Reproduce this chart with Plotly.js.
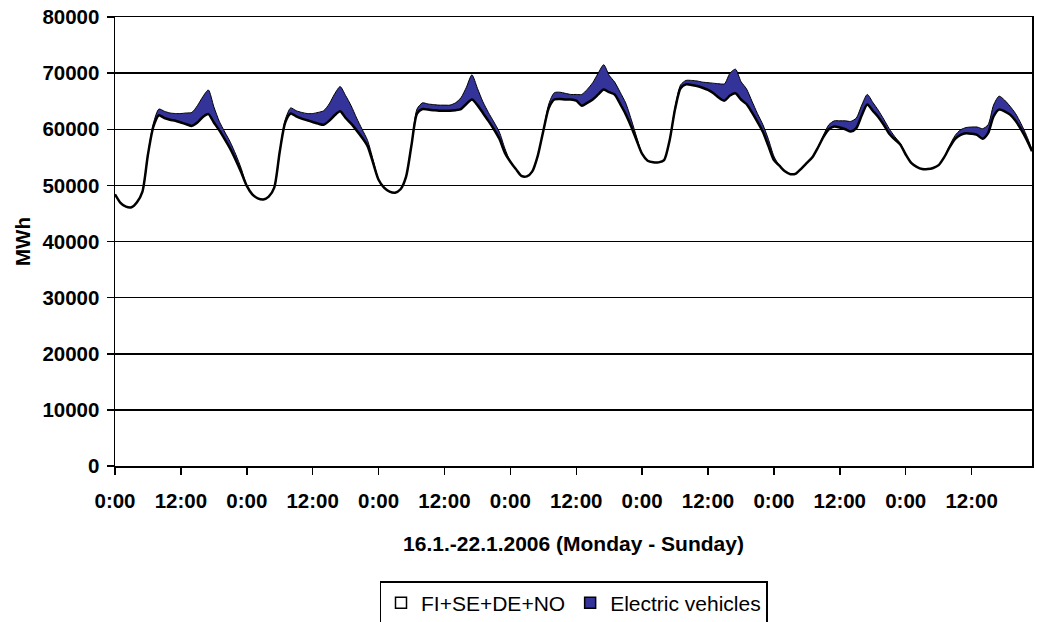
<!DOCTYPE html>
<html>
<head>
<meta charset="utf-8">
<script src="https://cdn.plot.ly/plotly-3.0.1.min.js"></script>
<style>
  html, body { margin: 0; padding: 0; background: #fff; }
  #chart { width: 1037px; height: 622px; }
</style>
</head>
<body>
<div id="chart"></div>
<script>
// Hourly load, MWh (FI+SE+DE+NO), Monday..Sunday 16.1.-22.1.2006
const baseMon = [48400, 46900, 46200, 46100, 47000, 48900, 55500, 60500, 62500, 62000, 61700, 61500, 61200, 60900, 60600, 61200, 62200, 62700, 61200, 59800, 58200, 56500, 54500, 52300];
const baseTue = [49900, 48400, 47700, 47500, 48000, 49600, 56000, 61200, 62800, 62300, 61900, 61600, 61300, 61000, 60800, 61500, 62500, 63200, 62000, 61000, 59800, 58500, 57000, 54000];
const baseWed = [51000, 49600, 48900, 48700, 49300, 51500, 57200, 62800, 63600, 63500, 63400, 63300, 63300, 63300, 63400, 63600, 64500, 65300, 64300, 62900, 61500, 60000, 58300, 55800];
const baseThu = [54200, 52900, 51700, 51600, 52500, 55300, 59700, 63800, 65300, 65400, 65300, 65300, 65100, 64200, 64700, 65300, 66200, 67100, 66600, 66200, 64500, 62700, 60500, 58000];
const baseFri = [55600, 54400, 54100, 54100, 54500, 58000, 63600, 67300, 68000, 67900, 67700, 67400, 67000, 66400, 65600, 65100, 66000, 66400, 65300, 64500, 63000, 61300, 59500, 57000];
const baseSat = [54500, 53500, 52500, 52000, 52100, 53000, 54000, 55000, 56700, 58600, 60000, 60500, 60300, 60000, 59600, 60200, 62500, 64400, 63300, 62200, 60800, 59200, 58200, 57300];
const baseSun = [55500, 54000, 53300, 52900, 52900, 53100, 53600, 55000, 56800, 58300, 59000, 59300, 59200, 59000, 58300, 59300, 62300, 63500, 63200, 62600, 61500, 60000, 58200, 56100];

// Additional load from electric vehicles, MWh
const evMon = [0, 0, 0, 0, 0, 0, 0, 600, 1100, 1200, 1200, 1300, 1600, 2000, 2400, 3000, 3600, 4300, 2800, 1600, 1300, 1200, 1000, 700];
const evTue = [0, 0, 0, 0, 0, 0, 0, 500, 1000, 1000, 1100, 1200, 1500, 2000, 2500, 3000, 3800, 4400, 4000, 3200, 2200, 1500, 1000, 600];
const evWed = [0, 0, 0, 0, 0, 0, 0, 800, 1100, 1000, 1000, 1000, 1000, 1000, 1300, 2000, 3000, 4400, 3000, 2000, 1500, 1300, 1200, 800];
const evThu = [0, 0, 0, 0, 0, 0, 0, 700, 1200, 1200, 1100, 900, 1100, 2000, 2400, 3000, 3800, 4400, 3000, 2200, 2100, 2000, 1300, 600];
const evFri = [0, 0, 0, 0, 0, 0, 300, 600, 700, 800, 900, 1000, 1300, 1800, 2500, 3000, 4000, 4300, 3200, 2700, 2000, 1500, 1300, 1200];
const evSat = [700, 0, 0, 0, 0, 0, 0, 0, 0, 300, 800, 1000, 1200, 1500, 1800, 1800, 1800, 1800, 1500, 1200, 1000, 900, 500, 200];
const evSun = [0, 0, 0, 0, 0, 0, 0, 0, 300, 600, 900, 1000, 1200, 1400, 1800, 1500, 2000, 2400, 2000, 1500, 1300, 1000, 700, 300];

const tickHours = [0, 12, 24, 36, 48, 60, 72, 84, 96, 108, 120, 132, 144, 156];
const tickLabels = ['0:00', '12:00', '0:00', '12:00', '0:00', '12:00', '0:00', '12:00', '0:00', '12:00', '0:00', '12:00', '0:00', '12:00'];

const seriesNames = ['FI+SE+DE+NO', 'Electric vehicles'];
const xTitle = '16.1.-22.1.2006 (Monday - Sunday)';
const yTitle = 'MWh';

const base = [].concat(baseMon, baseTue, baseWed, baseThu, baseFri, baseSat, baseSun);
const ev = [].concat(evMon, evTue, evWed, evThu, evFri, evSat, evSun);
const hours = base.map((_, i) => i);

const FONT = 'Liberation Sans, Arial, sans-serif';
const BLUE = '#333399';
const AXFONT = { family: FONT, size: 20.5, color: '#000', weight: 'bold' };
const TITLEFONT = { family: FONT, size: 21, color: '#000', weight: 'bold' };

const traces = [
  {
    x: hours, y: base, type: 'scatter', mode: 'lines', stackgroup: 'load',
    name: seriesNames[0], showlegend: false,
    line: { color: '#000', width: 2.5, shape: 'spline', smoothing: 0.7 },
    fillcolor: 'rgba(255,255,255,0)',
    hoverinfo: 'x+y'
  },
  {
    x: hours, y: ev, type: 'scatter', mode: 'lines', stackgroup: 'load',
    name: seriesNames[1], showlegend: false,
    line: { color: '#000', width: 1, shape: 'spline', smoothing: 0.7 },
    fillcolor: BLUE,
    hoverinfo: 'x+y'
  },
  // legend entries (square swatches as in the original)
  {
    x: [null], y: [null], type: 'scatter', mode: 'markers', name: seriesNames[0],
    marker: { symbol: 'square', size: 11, color: '#fff', line: { color: '#000', width: 1.5 } }
  },
  {
    x: [null], y: [null], type: 'scatter', mode: 'markers', name: seriesNames[1],
    marker: { symbol: 'square', size: 11, color: BLUE, line: { color: '#000', width: 1.5 } }
  }
];

const layout = {
  width: 1037, height: 622,
  margin: { l: 115, r: 5, t: 17, b: 156 },
  paper_bgcolor: '#fff', plot_bgcolor: '#fff',
  font: { family: FONT, color: '#000', size: 20 },
  showlegend: true,
  legend: {
    orientation: 'h', traceorder: 'normal',
    xref: 'paper', x: 0.5, xanchor: 'center',
    yref: 'container', y: 0.0659, yanchor: 'top',
    bordercolor: '#000', borderwidth: 1.5, bgcolor: '#fff',
    font: { family: FONT, size: 21, color: '#000' }
  },
  xaxis: {
    range: [0, 167], tickmode: 'array', tickvals: tickHours, ticktext: tickLabels,
    ticks: 'outside', ticklen: 7, tickwidth: 1.5, tickcolor: '#000',
    showgrid: false, zeroline: false,
    showline: true, linecolor: '#000', linewidth: 1.5, mirror: true,
    tickfont: AXFONT,
    ticklabelstandoff: 9,
    title: { text: xTitle, font: TITLEFONT, standoff: 25 }
  },
  yaxis: {
    range: [0, 80000], dtick: 10000, tick0: 0, tickformat: 'd',
    ticks: 'outside', ticklen: 7, tickwidth: 1.5, tickcolor: '#000',
    showgrid: true, gridcolor: '#000', gridwidth: 1.5, zeroline: false,
    showline: true, linecolor: '#000', linewidth: 1.5, mirror: true,
    tickfont: AXFONT,
    ticklabelstandoff: 3,
    title: { text: yTitle, font: AXFONT, standoff: 6 }
  }
};

Plotly.newPlot('chart', traces, layout, { displayModeBar: false, staticPlot: true });
</script>
</body>
</html>
